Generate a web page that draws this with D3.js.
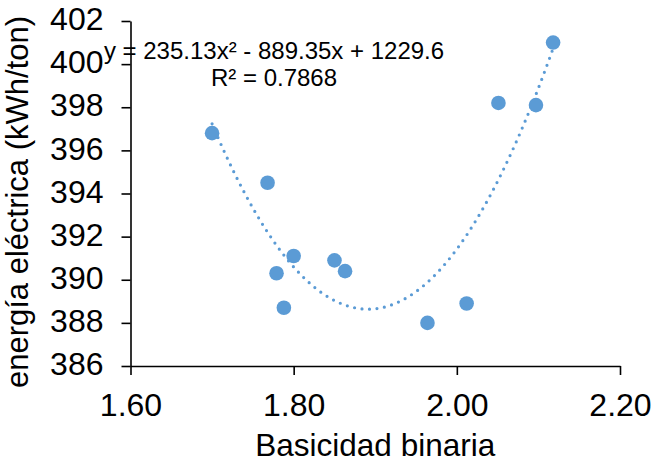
<!DOCTYPE html>
<html>
<head>
<meta charset="utf-8">
<script src="https://cdn.jsdelivr.net/npm/d3@7"></script>
<style>
  body { margin: 0; background: #fff; }
  text { font-family: "Liberation Sans", Arial, sans-serif; fill: #000; }
</style>
</head>
<body>
<div id="chart"></div>
<script>
// data
const basicidad = [1.700, 1.768, 1.779, 1.788, 1.800, 1.850, 1.863, 1.964, 2.012, 2.051, 2.097, 2.118];
const energia   = [396.8, 394.5, 390.3, 388.7, 391.1, 390.9, 390.4, 388.0, 388.9, 398.2, 398.1, 401.0];
const xTicks = [1.6, 1.8, 2.0, 2.2];
const yTicks = [386, 388, 390, 392, 394, 396, 398, 400, 402];
// polynomial trendline shown on the chart: a*x^2 + b*x + c
const trendCoef = [235.13, -889.35, 1229.6];
const eqLines = ["y = 235.13x² - 889.35x + 1229.6", "R² = 0.7868"];

const width = 654, height = 463;
const blue = "#5B9BD5";

const svg = d3.select("#chart").append("svg")
    .attr("width", width)
    .attr("height", height);

const x = d3.scaleLinear().domain([1.6, 2.2]).range([130.5, 620]);
const y = d3.scaleLinear().domain([386, 402]).range([366, 21]);

// trendline (dotted), over the range of the data
const xs = d3.range(0, 101).map(i => d3.min(basicidad) + i / 100 * (d3.max(basicidad) - d3.min(basicidad)));
const trend = xs.map(v => [v, trendCoef[0] * v * v + trendCoef[1] * v + trendCoef[2]]);

svg.append("path")
    .datum(trend)
    .attr("fill", "none")
    .attr("stroke", blue)
    .attr("stroke-width", 3.2)
    .attr("stroke-linecap", "round")
    .attr("stroke-dasharray", "0 7.5")
    .attr("d", d3.line().x(d => x(d[0])).y(d => y(d[1])));

// markers
svg.append("g")
    .selectAll("circle")
    .data(basicidad.map((v, i) => [v, energia[i]]))
    .enter().append("circle")
    .attr("cx", d => x(d[0]))
    .attr("cy", d => y(d[1]))
    .attr("r", 7.3)
    .attr("fill", blue);

// axes
const xAxis = svg.append("g")
    .attr("transform", "translate(0," + y(386) + ")")
    .call(d3.axisBottom(x).tickValues(xTicks).tickSize(9).tickSizeOuter(0).tickPadding(18)
        .tickFormat(d3.format(".2f")));

const yAxis = svg.append("g")
    .attr("transform", "translate(" + x(1.6) + ",0)")
    .call(d3.axisLeft(y).tickValues(yTicks).tickSize(9).tickSizeOuter(0).tickPadding(18)
        .tickFormat(d3.format("d")));

[xAxis, yAxis].forEach(g => {
    g.attr("font-family", null).attr("font-size", null);
    g.selectAll("path, line").attr("stroke", "#000").attr("stroke-width", 1.6);
    g.selectAll("text").style("font-size", "32px");
});
yAxis.selectAll("text").attr("dy", "0.27em");

// axis titles
svg.append("text")
    .attr("x", x(1.9))
    .attr("y", 456)
    .attr("text-anchor", "middle")
    .style("font-size", "31.5px")
    .text("Basicidad binaria");

svg.append("text")
    .attr("transform", "translate(28,202) rotate(-90)")
    .attr("text-anchor", "middle")
    .style("font-size", "31px")
    .text("energía eléctrica (kWh/ton)");

// equation label
svg.append("g").selectAll("text")
    .data(eqLines)
    .enter().append("text")
    .attr("x", 274)
    .attr("y", (d, i) => 59 + i * 27)
    .attr("text-anchor", "middle")
    .style("font-size", "24px")
    .text(d => d);
</script>
</body>
</html>
